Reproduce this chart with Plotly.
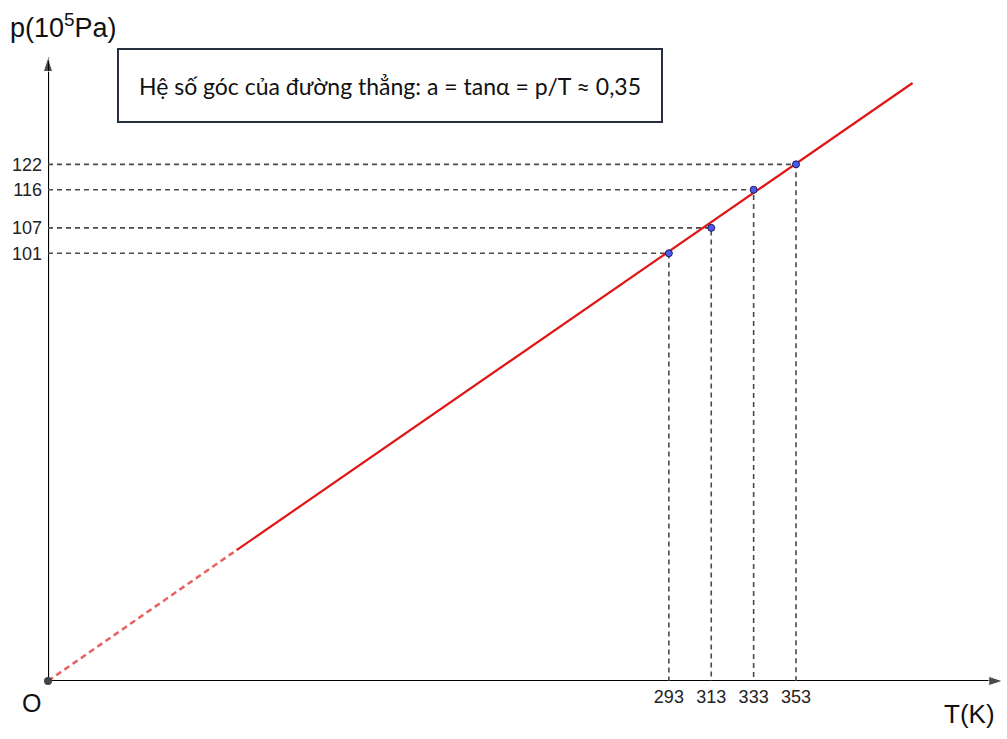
import plotly.graph_objects as go

# Data
T_vals = [293, 313, 333, 353]
p_vals = [101, 107, 116, 122]
x_tick_labels = ["293", "313", "333", "353"]
y_tick_labels = ["101", "107", "116", "122"]
line_solid_T = [89, 408]
line_solid_p = [30.9, 141.2]
line_dash_T = [0, 89]
line_dash_p = [0, 30.9]
x_axis_end = 450.7
y_axis_end = 147.3
box_text = "Hệ số góc của đường thẳng: a = tanα = p/T ≈ 0,35"

W, H = 1007, 739
L, B = 48, 58
plot_w = W - L
plot_h = H - B
x_max = plot_w / 2.119
y_max = plot_h / 4.235

fig = go.Figure()

# axes with arrowheads
fig.add_trace(go.Scatter(
    x=[0, x_axis_end], y=[0, 0], mode="lines+markers",
    line=dict(color="#000000", width=2.2),
    marker=dict(symbol="arrow", angleref="previous", size=[0, 15], color="#000000"),
    hoverinfo="skip", showlegend=False, cliponaxis=False))
fig.add_trace(go.Scatter(
    x=[0, 0], y=[0, y_axis_end], mode="lines+markers",
    line=dict(color="#000000", width=2.2),
    marker=dict(symbol="arrow", angleref="previous", size=[0, 15], color="#000000"),
    hoverinfo="skip", showlegend=False, cliponaxis=False))

# dashed guide lines
for t, p in zip(T_vals, p_vals):
    fig.add_trace(go.Scatter(
        x=[0, t, t], y=[p, p, 0], mode="lines",
        line=dict(color="#4a4a4a", width=1.6, dash="5px,4px"),
        hoverinfo="skip", showlegend=False, cliponaxis=False))

# red line
fig.add_trace(go.Scatter(x=line_dash_T, y=line_dash_p, mode="lines",
                         line=dict(color="#e86060", width=2.5, dash="6px,4px"),
                         showlegend=False, cliponaxis=False))
fig.add_trace(go.Scatter(x=line_solid_T, y=line_solid_p, mode="lines",
                         line=dict(color="#e01515", width=2.2),
                         showlegend=False, cliponaxis=False))

# points
fig.add_trace(go.Scatter(x=T_vals, y=p_vals, mode="markers",
                         marker=dict(color="#4b5ae8", size=7,
                                     line=dict(color="#1a1a6a", width=1)),
                         showlegend=False, cliponaxis=False))
# origin
fig.add_trace(go.Scatter(x=[0], y=[0], mode="markers",
                         marker=dict(color="#444444", size=8),
                         showlegend=False, cliponaxis=False))

annotations = [
    dict(x=(63 - L) / plot_w, y=(H - B - 26) / plot_h, xref="paper", yref="paper",
         text="p(10<sup>5</sup>Pa)", showarrow=False, xanchor="center", yanchor="middle",
         font=dict(family="Liberation Sans, Arial", size=27, color="#111111")),
    dict(x=(969 - L) / plot_w, y=(H - B - 714) / plot_h, xref="paper", yref="paper",
         text="T(K)", showarrow=False, xanchor="center", yanchor="middle",
         font=dict(family="Liberation Sans, Arial", size=26, color="#111111")),
    dict(x=(31 - L) / plot_w, y=(H - B - 703) / plot_h, xref="paper", yref="paper",
         text="O", showarrow=False, xanchor="center", yanchor="middle",
         font=dict(family="Liberation Sans, Arial", size=25, color="#111111")),
    dict(x=(390 - L) / plot_w, y=(H - B - 86) / plot_h, xref="paper", yref="paper",
         text=box_text, showarrow=False, xanchor="center", yanchor="middle",
         width=540, height=69, bordercolor="#263040", borderwidth=2, bgcolor="white",
         font=dict(family="Lato", size=23, color="#111111")),
]

fig.update_layout(
    width=W, height=H,
    margin=dict(l=L, r=0, t=0, b=B, pad=0),
    plot_bgcolor="white", paper_bgcolor="white",
    xaxis=dict(range=[0, x_max], showgrid=False, zeroline=False, showline=False,
               tickvals=T_vals, ticktext=x_tick_labels, ticks="",
               tickfont=dict(family="Liberation Sans, Arial", size=18, color="#222222"),
               ticklabelstandoff=3),
    yaxis=dict(range=[0, y_max], showgrid=False, zeroline=False, showline=False,
               tickvals=p_vals, ticktext=y_tick_labels, ticks="",
               tickfont=dict(family="Liberation Sans, Arial", size=18, color="#222222"),
               ticklabelstandoff=5),
    annotations=annotations,
)

fig.write_html("out.html", config={"displayModeBar": False},
               post_script="document.body.style.margin='0';document.body.style.overflow='hidden';")
